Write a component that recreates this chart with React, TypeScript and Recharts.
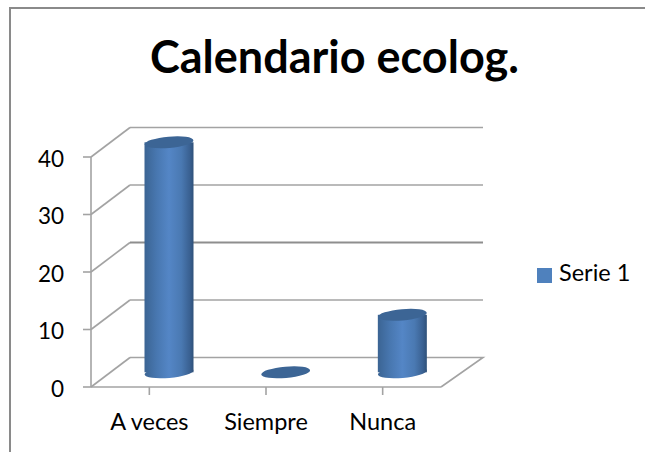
import React from "react";
import { BarChart, Bar, XAxis, YAxis, CartesianGrid, Legend } from "recharts";

const categories = ["A veces", "Siempre", "Nunca"];
const serie1 = [40, 0, 10];
const yTicks = [0, 10, 20, 30, 40];
const seriesName = "Serie 1";
const chartTitle = "Calendario ecolog.";

const rows = categories.map((name, i) => ({ name, value: serie1[i] }));

const FONT = "Lato, 'Open Sans', sans-serif";
const GRAY = "#a3a3a3";
const DX = 39;
const DY = 29.5;
const PLOT_BOTTOM = 387;
const MID_LINE_Y = 272;

function GridLine(props: any) {
  const { x1, x2, y1 } = props;
  const isFloor = Math.abs(y1 - PLOT_BOTTOM) < 1;
  const isMid = Math.abs(y1 - MID_LINE_Y) < 1;
  const backY = y1 - DY;
  return (
    <g>
      <path d={`M${x1} ${y1}L${x1 + DX} ${backY}`} fill="none" stroke={GRAY} strokeWidth={1.6} />
      <path
        d={`M${x1 + DX} ${backY}L${x2 + 42} ${backY}` + (isFloor ? `L${x2} ${y1}` : "")}
        fill="none"
        stroke={isMid ? "#8e8e8e" : GRAY}
        strokeWidth={isMid ? 2 : 1.6}
      />
    </g>
  );
}

function Cylinder(props: any) {
  const { x, y, width, height } = props;
  const rx = width / 2;
  const ry = 5.6;
  const cx = x + rx + 19.5;
  const top = y - 14.7;
  const bottom = y + height - 14.7;
  const tilt = (py: number) => `rotate(-5 ${cx} ${py})`;
  return (
    <g>
      <defs>
        <linearGradient id="cylBody" x1="0" x2="1" y1="0" y2="0">
          <stop offset="0" stopColor="#3b6493" />
          <stop offset="0.25" stopColor="#4877b0" />
          <stop offset="0.5" stopColor="#5486c6" />
          <stop offset="0.75" stopColor="#4a79b2" />
          <stop offset="0.92" stopColor="#3a6192" />
          <stop offset="1" stopColor="#2f5179" />
        </linearGradient>
      </defs>
      {height > 0 && (
        <g>
          <ellipse cx={cx} cy={bottom} rx={rx} ry={ry} fill="url(#cylBody)" transform={tilt(bottom)} />
          <rect x={cx - rx} y={top} width={width} height={bottom - top} fill="url(#cylBody)" />
        </g>
      )}
      <ellipse cx={cx} cy={top} rx={rx} ry={ry} fill="#3c6595" transform={tilt(top)} />
    </g>
  );
}

export default function App() {
  return (
    <div style={{ position: "absolute", left: 0, top: 0, width: 645, height: 452, background: "#fff", overflow: "hidden" }}>
      <div style={{ position: "absolute", left: 9, top: 7, right: -10, bottom: -10, borderLeft: "2px solid #8a8a8a", borderTop: "2px solid #8a8a8a" }} />
      <div style={{ position: "absolute", left: 0, width: 669, top: 31, textAlign: "center", fontFamily: FONT, fontWeight: 700, fontSize: 45, lineHeight: "50px", color: "#000" }}>
        {chartTitle}
      </div>
      <div style={{ position: "absolute", left: 0, top: 0 }}>
        <BarChart
          width={645}
          height={452}
          data={rows}
          margin={{ left: 31, right: 204, top: 157, bottom: 25 }}
          barCategoryGap="29%"
        >
          <CartesianGrid horizontal={GridLine as any} vertical={false} />
          <XAxis
            dataKey="name"
            height={40}
            stroke={GRAY}
            strokeWidth={1.6}
            tickSize={8}
            tickMargin={18}
            tick={{ fill: "#000", fontSize: 23.5, fontFamily: FONT }}
            interval={0}
          />
          <YAxis
            width={60}
            domain={[0, 40]}
            ticks={yTicks}
            stroke={GRAY}
            strokeWidth={1.6}
            tickSize={8}
            tickMargin={19}
            tick={{ fill: "#000", fontSize: 22.5, fontFamily: FONT, dy: 2 }}
          />
          <Legend
            layout="vertical"
            align="center"
            verticalAlign="middle"
            iconType="square"
            iconSize={15}
            wrapperStyle={{ left: 537, top: 258, width: 108, fontFamily: FONT, fontSize: 23.5 }}
            formatter={(v: string) => <span style={{ color: "#000", marginLeft: 3 }}>{v}</span>}
          />
          <Bar
            dataKey="value"
            name={seriesName}
            fill="#4f81bd"
            barSize={49}
            isAnimationActive={false}
            shape={Cylinder as any}
          />
        </BarChart>
      </div>
    </div>
  );
}
